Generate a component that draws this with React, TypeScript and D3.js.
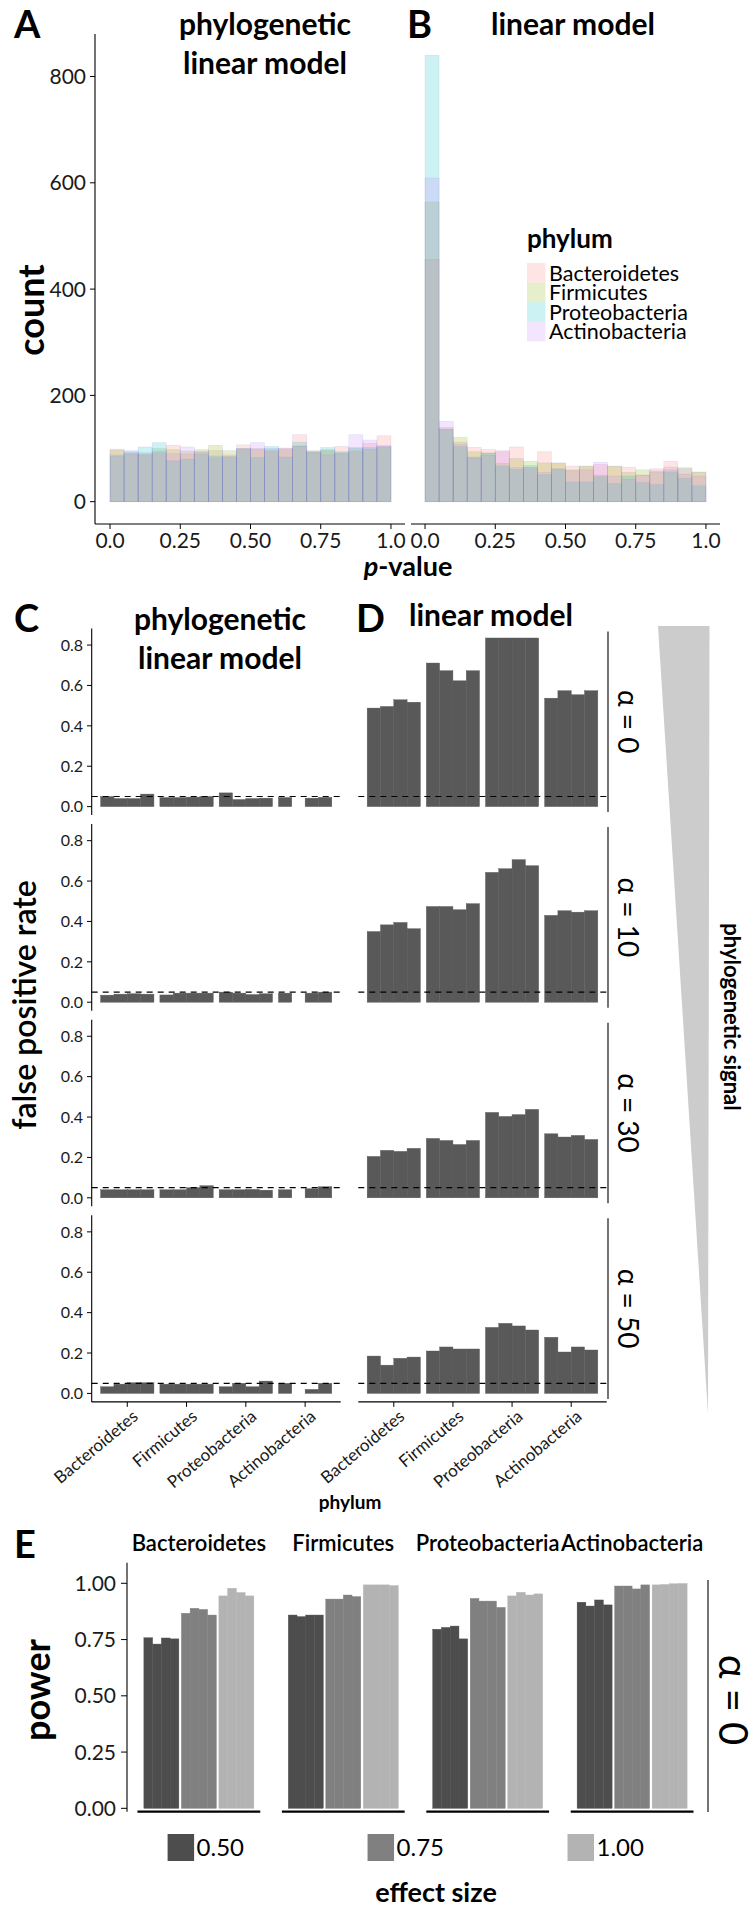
import * as d3 from "d3";
import React from "react";

// ---------- data ----------
const phyla = ["Bacteroidetes", "Firmicutes", "Proteobacteria", "Actinobacteria"];
const phylumColors = ["#F8766D", "#7CAE00", "#00BFC4", "#C77CFF"];

const binStarts = [0, 0.05, 0.1, 0.15, 0.2, 0.25, 0.3, 0.35, 0.4, 0.45, 0.5, 0.55, 0.6, 0.65, 0.7, 0.75, 0.8, 0.85, 0.9, 0.95];
const binWidth = 0.05;

// p-value histogram counts, phylogenetic linear model (panel A)
const plmBact = [99, 92, 88, 92, 106, 90, 95, 96, 88, 107, 100, 95, 101, 126, 96, 98, 104, 95, 110, 124];
const plmFirm = [97, 90, 90, 100, 98, 95, 98, 106, 96, 100, 99, 98, 98, 105, 95, 96, 92, 100, 99, 103];
const plmProt = [86, 94, 103, 111, 77, 80, 90, 86, 84, 99, 83, 104, 84, 112, 93, 102, 94, 102, 102, 104];
const plmAct = [88, 96, 92, 95, 90, 103, 93, 82, 85, 100, 111, 100, 100, 104, 92, 88, 90, 126, 116, 106];

// p-value histogram counts, linear model (panel B)
const lmBact = [456, 140, 112, 102, 98, 96, 103, 64, 94, 72, 67, 66, 70, 66, 65, 50, 62, 76, 52, 55];
const lmFirm = [564, 137, 121, 94, 92, 72, 81, 76, 73, 73, 60, 67, 50, 67, 55, 60, 56, 60, 64, 56];
const lmProt = [840, 136, 104, 84, 91, 67, 61, 68, 51, 61, 37, 37, 47, 34, 48, 36, 32, 56, 44, 30];
const lmAct = [609, 151, 108, 82, 87, 94, 64, 64, 55, 62, 58, 60, 74, 48, 42, 50, 58, 65, 62, 48];

const countTicks = [0, 200, 400, 600, 800];
const pTicks = [0, 0.25, 0.5, 0.75, 1];
const pTickLabels = ["0.0", "0.25", "0.50", "0.75", "1.0"];

// false positive rates: [alpha][phylum][replicate]
const alphaLabels = ["α = 0", "α = 10", "α = 30", "α = 50"];
const plmFpr = [
  [[0.05, 0.04, 0.04, 0.062], [0.045, 0.045, 0.047, 0.05], [0.068, 0.035, 0.04, 0.042], [0.045, 0, 0.042, 0.046]],
  [[0.035, 0.04, 0.042, 0.04], [0.036, 0.045, 0.045, 0.045], [0.05, 0.045, 0.038, 0.042], [0.045, 0, 0.045, 0.05]],
  [[0.04, 0.04, 0.04, 0.04], [0.04, 0.04, 0.05, 0.06], [0.04, 0.04, 0.042, 0.038], [0.04, 0, 0.045, 0.055]],
  [[0.033, 0.046, 0.053, 0.053], [0.046, 0.046, 0.046, 0.046], [0.033, 0.05, 0.033, 0.061], [0.05, 0, 0.02, 0.05]],
];
const lmFpr = [
  [[0.488, 0.496, 0.529, 0.517], [0.711, 0.673, 0.623, 0.673], [0.835, 0.835, 0.835, 0.835], [0.537, 0.574, 0.554, 0.574]],
  [[0.35, 0.383, 0.395, 0.364], [0.474, 0.474, 0.458, 0.488], [0.643, 0.661, 0.706, 0.676], [0.43, 0.453, 0.446, 0.453]],
  [[0.205, 0.235, 0.23, 0.245], [0.294, 0.284, 0.264, 0.284], [0.423, 0.403, 0.412, 0.438], [0.317, 0.301, 0.309, 0.289]],
  [[0.185, 0.14, 0.174, 0.18], [0.21, 0.23, 0.22, 0.22], [0.327, 0.347, 0.334, 0.314], [0.278, 0.205, 0.23, 0.215]],
];
const fprTicks = [0, 0.2, 0.4, 0.6, 0.8];
const fprTickLabels = ["0.0", "0.2", "0.4", "0.6", "0.8"];
const nominalRate = 0.05;

// power: [phylum][effect size][replicate]
const effectSizes = ["0.50", "0.75", "1.00"];
const effectColors = ["#4d4d4d", "#808080", "#b3b3b3"];
const power = [
  [[0.758, 0.73, 0.757, 0.753], [0.867, 0.889, 0.884, 0.859], [0.944, 0.978, 0.959, 0.944]],
  [[0.859, 0.852, 0.859, 0.859], [0.93, 0.93, 0.948, 0.941], [0.993, 0.993, 0.993, 0.99]],
  [[0.796, 0.804, 0.81, 0.753], [0.933, 0.921, 0.921, 0.893], [0.944, 0.96, 0.948, 0.953]],
  [[0.916, 0.899, 0.926, 0.904], [0.988, 0.988, 0.975, 0.993], [0.993, 0.995, 0.998, 0.999]],
];
const powerTicks = [0, 0.25, 0.5, 0.75, 1];
const powerTickLabels = ["0.00", "0.25", "0.50", "0.75", "1.00"];

const FONT = "Lato, 'Open Sans', sans-serif";

// ---------- histogram panel ----------
function HistPanel({ series, x, y }: { series: number[][]; x: d3.ScaleLinear<number, number>; y: d3.ScaleLinear<number, number> }) {
  return (
    <g>
      {series.map((counts, k) => (
        <g key={k} fill={phylumColors[k]} fillOpacity={0.2}>
          {counts.map((c, i) => (
            <rect
              key={i}
              x={x(binStarts[i])}
              width={x(binStarts[i] + binWidth) - x(binStarts[i])}
              y={y(c)}
              height={y(0) - y(c)}
              stroke="#5a6fc0"
              strokeOpacity={0.13}
              strokeWidth={0.7}
            />
          ))}
        </g>
      ))}
    </g>
  );
}

// ---------- false positive panel ----------
function FprPanel({ values, x, y }: { values: number[][]; x: d3.ScaleBand<string>; y: d3.ScaleLinear<number, number> }) {
  const sub = d3.scaleBand<number>().domain([0, 1, 2, 3]).range([0, x.bandwidth()]);
  const [r0, r1] = x.range();
  return (
    <g>
      {values.map((reps, p) =>
        reps.map((v, r) =>
          v > 0 ? (
            <rect
              key={`${p}-${r}`}
              x={(x(phyla[p]) as number) + (sub(r) as number)}
              width={sub.bandwidth()}
              y={y(v)}
              height={y(0) - y(v)}
              fill="#595959"
              stroke="#595959"
              strokeWidth={0.4}
            />
          ) : null
        )
      )}
      <line x1={r0} x2={r1} y1={y(nominalRate)} y2={y(nominalRate)} stroke="#000" strokeWidth={1.2} strokeDasharray="6 5" />
    </g>
  );
}

export default function App() {
  // ----- A / B -----
  const yH = d3.scaleLinear().domain([-42, 880]).range([524, 34]);
  const xA = d3.scaleLinear().domain([-0.05, 1.05]).range([96, 405]);
  const xB = d3.scaleLinear().domain([-0.05, 1.05]).range([411, 720]);
  const plmSeries = [plmBact, plmFirm, plmProt, plmAct];
  const lmSeries = [lmBact, lmFirm, lmProt, lmAct];

  // ----- C / D -----
  const panelTop0 = 628.5;
  const panelStep = 195.6;
  const panelH = 186.6;
  const xC = d3.scaleBand<string>().domain(phyla).range([91.7, 340.7]).paddingInner(0.1).paddingOuter(0.15);
  const xD = d3.scaleBand<string>().domain(phyla).range([358.3, 606.7]).paddingInner(0.1).paddingOuter(0.15);
  const fprY = (i: number) =>
    d3.scaleLinear().domain([-0.042, 0.882]).range([panelTop0 + i * panelStep + panelH, panelTop0 + i * panelStep]);
  const cdBottom = panelTop0 + 3 * panelStep + panelH;

  // ----- E -----
  const yE = d3.scaleLinear().domain([-0.015, 1.0916]).range([1811.7, 1562.7]);
  const facetX = d3.scaleBand<string>().domain(phyla).range([137.5, 693.5]).paddingInner(0.15);
  const effX = d3.scaleBand<string>().domain(effectSizes).range([0, facetX.bandwidth()]).paddingInner(0.067).paddingOuter(0.17);
  const repX = d3.scaleBand<number>().domain([0, 1, 2, 3]).range([0, effX.bandwidth()]);
  const legendX = d3.scalePoint<string>().domain(effectSizes).range([167.6, 567.5]);

  return (
    <svg
      width={751}
      height={1909}
      viewBox="0 0 751 1909"
      style={{ position: "absolute", left: 0, top: 0, background: "#fff" }}
      fontFamily={FONT}
    >
      <rect x={0} y={0} width={751} height={1909} fill="#fff" />

      {/* ================= A / B ================= */}
      <text x={14} y={38} fontSize={38} fontWeight={700}>A</text>
      <text x={407} y={38} fontSize={38} fontWeight={700}>B</text>
      <text x={265} y={35} fontSize={30} fontWeight={700} textAnchor="middle">phylogenetic</text>
      <text x={265} y={74} fontSize={30} fontWeight={700} textAnchor="middle">linear model</text>
      <text x={573} y={35} fontSize={30} fontWeight={700} textAnchor="middle">linear model</text>

      <HistPanel series={plmSeries} x={xA} y={yH} />
      <HistPanel series={lmSeries} x={xB} y={yH} />

      {/* y axis A */}
      <line x1={95} x2={95} y1={34} y2={524} stroke="#000" strokeWidth={1.1} />
      {countTicks.map((t) => (
        <g key={t}>
          <line x1={90} x2={95} y1={yH(t)} y2={yH(t)} stroke="#000" strokeWidth={1} />
          <text x={86} y={yH(t)} dy="0.36em" fontSize={21} textAnchor="end" fill="#1a1a1a">{t}</text>
        </g>
      ))}
      <text transform={`translate(44,310) rotate(-90)`} fontSize={36} fontWeight={700} textAnchor="middle">count</text>

      {/* x axes A, B */}
      {[xA, xB].map((x, k) => (
        <g key={k}>
          <line x1={x.range()[0] - (k === 0 ? 1 : 0)} x2={x.range()[1]} y1={524} y2={524} stroke="#000" strokeWidth={1.1} />
          {pTicks.map((t, i) => (
            <g key={t}>
              <line x1={x(t)} x2={x(t)} y1={524} y2={529} stroke="#000" strokeWidth={1} />
              <text x={x(t)} y={548} fontSize={21} textAnchor="middle" fill="#1a1a1a">{pTickLabels[i]}</text>
            </g>
          ))}
        </g>
      ))}
      <text x={408} y={576} fontSize={27} fontWeight={700} textAnchor="middle">
        <tspan fontStyle="italic">p</tspan>-value
      </text>

      {/* legend */}
      <text x={527} y={248} fontSize={26} fontWeight={700}>phylum</text>
      {phyla.map((p, i) => (
        <g key={p}>
          <rect x={527} y={263 + i * 19.6} width={18.5} height={19.6} fill={phylumColors[i]} fillOpacity={0.2} />
          <text x={549} y={263 + i * 19.6 + 9.8} dy="0.36em" fontSize={21.5}>{p}</text>
        </g>
      ))}

      {/* ================= C / D ================= */}
      <text x={14} y={632} fontSize={38} fontWeight={700}>C</text>
      <text x={356} y={632} fontSize={38} fontWeight={700}>D</text>
      <text x={220} y={630} fontSize={30} fontWeight={700} textAnchor="middle">phylogenetic</text>
      <text x={220} y={669} fontSize={30} fontWeight={700} textAnchor="middle">linear model</text>
      <text x={491} y={626} fontSize={30} fontWeight={700} textAnchor="middle">linear model</text>

      {alphaLabels.map((lab, i) => {
        const y = fprY(i);
        const top = panelTop0 + i * panelStep;
        return (
          <g key={lab}>
            <FprPanel values={plmFpr[i]} x={xC} y={y} />
            <FprPanel values={lmFpr[i]} x={xD} y={y} />
            {/* C y axis */}
            <line x1={91.7} x2={91.7} y1={top} y2={top + panelH} stroke="#000" strokeWidth={1.1} />
            {fprTicks.map((t, j) => (
              <g key={t}>
                <line x1={87} x2={91.7} y1={y(t)} y2={y(t)} stroke="#000" strokeWidth={1} />
                <text x={83} y={y(t)} dy="0.36em" fontSize={16} textAnchor="end" fill="#1a1a1a">{fprTickLabels[j]}</text>
              </g>
            ))}
            {/* strip */}
            <line x1={608} x2={608} y1={top + 3} y2={top + panelH - 3} stroke="#000" strokeWidth={1.1} />
            <text transform={`translate(628,${top + panelH / 2}) rotate(90)`} fontSize={28} textAnchor="middle" dy="0.36em">{lab}</text>
          </g>
        );
      })}

      {/* C/D x axes */}
      {[xC, xD].map((x, k) => (
        <g key={k}>
          <line x1={x.range()[0]} x2={x.range()[1]} y1={cdBottom} y2={cdBottom} stroke="#000" strokeWidth={1.1} />
          {phyla.map((p) => {
            const cx = (x(p) as number) + x.bandwidth() / 2;
            return (
              <g key={p}>
                <line x1={cx} x2={cx} y1={cdBottom} y2={cdBottom + 5} stroke="#000" strokeWidth={1} />
                <text
                  transform={`translate(${cx + 4},${cdBottom + 7}) rotate(-40)`}
                  fontSize={17}
                  textAnchor="end"
                  dy="0.72em"
                  fill="#1a1a1a"
                >
                  {p}
                </text>
              </g>
            );
          })}
        </g>
      ))}
      <text x={350} y={1509} fontSize={19} fontWeight={700} textAnchor="middle">phylum</text>
      <text transform={`translate(36,1005) rotate(-90)`} fontSize={32} fontWeight={600} textAnchor="middle">false positive rate</text>

      {/* phylogenetic signal wedge */}
      <path d={d3.line()([[658, 626], [709.5, 626], [708, 1414]]) + "Z"} fill="#cccccc" />
      <text transform={`translate(732,1017) rotate(90)`} fontSize={22} fontWeight={700} textAnchor="middle" dy="0.36em">phylogenetic signal</text>

      {/* ================= E ================= */}
      <text x={14} y={1558} fontSize={38} fontWeight={700}>E</text>
      {phyla.map((p, pi) => {
        const fx = facetX(p) as number;
        return (
          <g key={p}>
            <text x={fx + facetX.bandwidth() / 2} y={1551} fontSize={22} fontWeight={600} textAnchor="middle">{p}</text>
            {effectSizes.map((e, ei) =>
              power[pi][ei].map((v, r) => (
                <rect
                  key={`${e}-${r}`}
                  x={fx + (effX(e) as number) + (repX(r) as number)}
                  width={repX.bandwidth()}
                  y={yE(v)}
                  height={yE(0) - yE(v)}
                  fill={effectColors[ei]}
                  stroke={effectColors[ei]}
                  strokeWidth={0.4}
                />
              ))
            )}
            <line x1={fx} x2={fx + facetX.bandwidth()} y1={1811.7} y2={1811.7} stroke="#000" strokeWidth={2.2} />
          </g>
        );
      })}
      <line x1={127} x2={127} y1={1562.7} y2={1811.7} stroke="#000" strokeWidth={1.1} />
      {powerTicks.map((t, i) => (
        <g key={t}>
          <line x1={121} x2={127} y1={yE(t)} y2={yE(t)} stroke="#000" strokeWidth={1} />
          <text x={116} y={yE(t)} dy="0.36em" fontSize={21} textAnchor="end" fill="#1a1a1a">{powerTickLabels[i]}</text>
        </g>
      ))}
      <text transform={`translate(50,1690) rotate(-90)`} fontSize={36} fontWeight={700} textAnchor="middle">power</text>
      <line x1={708} x2={708} y1={1580} y2={1812} stroke="#000" strokeWidth={1.1} />
      <text transform={`translate(733,1700) rotate(90)`} fontSize={40} textAnchor="middle" dy="0.36em">α = 0</text>

      {/* E legend */}
      {effectSizes.map((e, i) => {
        const lx = legendX(e) as number;
        return (
          <g key={e}>
            <rect x={lx} y={1834} width={26.5} height={27} fill={effectColors[i]} />
            <text x={lx + 29} y={1847.5} dy="0.36em" fontSize={24}>{e}</text>
          </g>
        );
      })}
      <text x={436} y={1902} fontSize={27} fontWeight={700} textAnchor="middle">effect size</text>
    </svg>
  );
}
